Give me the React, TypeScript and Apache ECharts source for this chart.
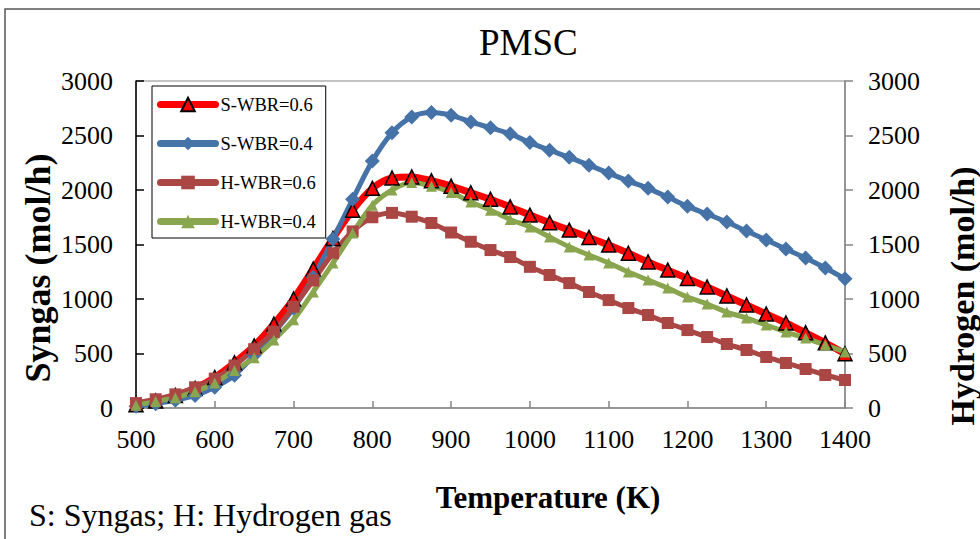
import React, { useEffect, useRef } from "react";
import * as echarts from "echarts";

const temperatures = [
  500, 525, 550, 575, 600, 625, 650, 675, 700, 725, 750, 775, 800, 825, 850, 875, 900, 925, 950,
  975, 1000, 1025, 1050, 1075, 1100, 1125, 1150, 1175, 1200, 1225, 1250, 1275, 1300, 1325, 1350,
  1375, 1400,
];
const sWbr06 = [
  30, 65, 115, 180, 280, 415, 570, 770, 1000, 1275, 1555, 1815, 2015, 2110, 2120, 2085, 2035, 1975,
  1915, 1845, 1770, 1700, 1632, 1565, 1495, 1420, 1340, 1265, 1188, 1110, 1028, 945, 862, 780, 690,
  598, 498,
];
const sWbr04 = [
  15, 40, 70, 115, 190, 300, 485, 690, 915, 1200, 1550, 1915, 2265, 2525, 2670, 2710, 2685, 2625,
  2570, 2515, 2435, 2365, 2300, 2228, 2155, 2082, 2015, 1935, 1850, 1779, 1706, 1623, 1541, 1458,
  1376, 1284, 1185,
];
const hWbr06 = [
  45, 80, 125, 190, 270, 390, 540, 700, 930, 1170, 1420, 1620, 1750, 1790, 1755, 1697, 1610, 1525,
  1449, 1385, 1295, 1220, 1146, 1064, 990, 917, 853, 780, 715, 651, 587, 532, 468, 413, 358, 303,
  257,
];
const hWbr04 = [
  25, 60, 95, 150, 230, 345, 460, 625, 810, 1065, 1330, 1605, 1860, 2000, 2068, 2035, 1978, 1890,
  1815, 1730, 1660, 1568, 1478, 1403, 1330, 1247, 1174, 1100, 1018, 954, 880, 825, 761, 697, 642,
  578, 514,
];
const seriesNames = ["S-WBR=0.6", "S-WBR=0.4", "H-WBR=0.6", "H-WBR=0.4"];
const seriesColors = ["#FF0000", "#4572A7", "#AA4643", "#89A54E"];

const FONT = "Liberation Serif";

export default function App() {
  const ref = useRef<HTMLDivElement>(null);
  useEffect(() => {
    if (!ref.current) return;
    const chart = echarts.init(ref.current, undefined, { renderer: "svg" });
    const pair = (ys: number[]) => temperatures.map((t, i) => [t, ys[i]]);
    const plain = (v: number) => String(v);
    chart.setOption({
      animation: false,
      backgroundColor: "#fff",
      textStyle: { fontFamily: FONT },
      title: {
        text: "PMSC",
        left: 479,
        top: 24,
        padding: 0,
        textStyle: { fontFamily: FONT, fontSize: 37, fontWeight: "normal", color: "#000" },
      },
      grid: {
        left: 136,
        right: 135,
        top: 81,
        bottom: 131,
        show: true,
        borderColor: "#868686",
        borderWidth: 1,
        backgroundColor: "transparent",
      },
      legend: {
        orient: "vertical",
        left: 152,
        top: 86,
        padding: [8, 10, 6, 5],
        itemGap: 18,
        itemWidth: 55,
        itemHeight: 17,
        borderColor: "#000",
        borderWidth: 1,
        backgroundColor: "#fff",
        data: seriesNames.map((name, i) => ({
          name,
          lineStyle: { width: 7, color: seriesColors[i], cap: "round" },
        })),
        textStyle: { fontFamily: FONT, fontSize: 18.5, color: "#000", lineHeight: 21 },
      },
      xAxis: {
        type: "value",
        min: 500,
        max: 1400,
        interval: 100,
        axisLine: { show: true, lineStyle: { color: "#868686", width: 1.5 } },
        axisTick: { show: true, inside: true, length: 7, lineStyle: { color: "#868686", width: 1.5 } },
        axisLabel: { fontFamily: FONT, fontSize: 26, color: "#000", margin: 18, formatter: plain },
        splitLine: { show: false },
      },
      yAxis: [
        {
          type: "value",
          min: 0,
          max: 3000,
          interval: 500,
          position: "left",
          axisLine: { show: true, onZero: false, lineStyle: { color: "#000", width: 1.5 } },
          axisTick: { show: true, inside: true, length: 8, lineStyle: { color: "#000", width: 1.5 } },
          axisLabel: { fontFamily: FONT, fontSize: 26, color: "#000", margin: 23, formatter: plain },
          splitLine: { show: false },
        },
        {
          type: "value",
          min: 0,
          max: 3000,
          interval: 500,
          position: "right",
          axisLine: { show: true, onZero: false, lineStyle: { color: "#868686", width: 1.5 } },
          axisTick: { show: true, inside: false, length: 8, lineStyle: { color: "#868686", width: 1.5 } },
          axisLabel: { fontFamily: FONT, fontSize: 26, color: "#000", margin: 23, formatter: plain },
          splitLine: { show: false },
        },
      ],
      series: [
        {
          name: seriesNames[0],
          type: "line",
          yAxisIndex: 0,
          data: pair(sWbr06),
          smooth: 0.3,
          symbol: "triangle",
          symbolSize: 14,
          lineStyle: { color: seriesColors[0], width: 7 },
          itemStyle: { color: seriesColors[0], borderColor: "#000", borderWidth: 1.5 },
        },
        {
          name: seriesNames[1],
          type: "line",
          yAxisIndex: 0,
          data: pair(sWbr04),
          smooth: 0.3,
          symbol: "diamond",
          symbolSize: 15,
          lineStyle: { color: seriesColors[1], width: 5 },
          itemStyle: { color: seriesColors[1] },
        },
        {
          name: seriesNames[2],
          type: "line",
          yAxisIndex: 1,
          data: pair(hWbr06),
          smooth: 0.3,
          symbol: "rect",
          symbolSize: 12,
          lineStyle: { color: seriesColors[2], width: 5 },
          itemStyle: { color: seriesColors[2] },
        },
        {
          name: seriesNames[3],
          type: "line",
          yAxisIndex: 1,
          data: pair(hWbr04),
          smooth: 0.3,
          symbol: "triangle",
          symbolSize: 11,
          lineStyle: { color: seriesColors[3], width: 5 },
          itemStyle: { color: seriesColors[3] },
        },
      ],
      graphic: [
        {
          type: "rect",
          z: -10,
          shape: { x: 5, y: 9, width: 1000, height: 600 },
          style: { fill: "none", stroke: "#555", lineWidth: 1.5 },
        },
        {
          type: "text",
          x: 38,
          y: 268,
          rotation: Math.PI / 2,
          style: {
            text: "Syngas (mol/h)",
            fontFamily: FONT,
            fontSize: 36,
            fontWeight: "bold",
            fill: "#000",
            align: "center",
            verticalAlign: "middle",
          },
        },
        {
          type: "text",
          x: 962,
          y: 296,
          rotation: Math.PI / 2,
          style: {
            text: "Hydrogen (mol/h)",
            fontFamily: FONT,
            fontSize: 34,
            fontWeight: "bold",
            fill: "#000",
            align: "center",
            verticalAlign: "middle",
          },
        },
        {
          type: "text",
          x: 548,
          y: 497,
          style: {
            text: "Temperature (K)",
            fontFamily: FONT,
            fontSize: 31,
            fontWeight: "bold",
            fill: "#000",
            align: "center",
            verticalAlign: "middle",
          },
        },
        {
          type: "text",
          x: 29,
          y: 515,
          style: {
            text: "S: Syngas; H: Hydrogen gas",
            fontFamily: FONT,
            fontSize: 32,
            fill: "#000",
            align: "left",
            verticalAlign: "middle",
          },
        },
      ],
    });
    return () => chart.dispose();
  }, []);
  return (
    <div
      ref={ref}
      style={{ position: "fixed", left: 0, top: 0, width: 980, height: 539, background: "#fff" }}
    />
  );
}
